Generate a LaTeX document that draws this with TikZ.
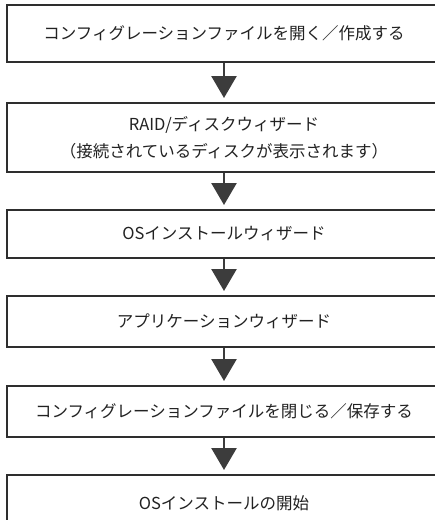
\documentclass[tikz,border=0pt]{standalone}
\usepackage{fontspec}
\setmainfont{Noto Sans CJK JP}
\usetikzlibrary{arrows.meta}
\definecolor{boxline}{HTML}{2E2E2E}
\definecolor{arrowcol}{HTML}{3C3C3C}
\definecolor{txt}{HTML}{222222}
\tikzset{
  flowbox/.style={draw=boxline, line width=2pt, fill=white, inner sep=0pt,
    minimum width=434pt, align=center, text=txt,
    font=\fontsize{16.5}{27}\selectfont},
  flowarrow/.style={draw=arrowcol, line width=2.6pt,
    -{Triangle[width=25pt,length=22pt]}, shorten >=4pt}
}
\begin{document}
\begin{tikzpicture}[x=1pt,y=-1pt]
\useasboundingbox (0,0) rectangle (435,520);
\clip (0,0) rectangle (435,520);
\node[flowbox, minimum height=56.5pt] (b1) at (224,33.25) {コンフィグレーションファイルを開く／作成する};
\node[flowbox, minimum height=69pt] (b2) at (224,137.5) {RAID/ディスクウィザード\\（接続されているディスクが表示されます）};
\node[flowbox, minimum height=48pt] (b3) at (224,234) {OSインストールウィザード};
\node[flowbox, minimum height=51pt] (b4) at (224,321.5) {アプリケーションウィザード};
\node[flowbox, minimum height=51pt] (b5) at (224,411.5) {コンフィグレーションファイルを閉じる／保存する};
\node[flowbox, minimum height=56pt] (b6) at (224,503) {OSインストールの開始};
\draw[flowarrow] (b1.south) -- (b2.north);
\draw[flowarrow] (b2.south) -- (b3.north);
\draw[flowarrow] (b3.south) -- (b4.north);
\draw[flowarrow] (b4.south) -- (b5.north);
\draw[flowarrow] (b5.south) -- (b6.north);
\end{tikzpicture}
\end{document}
